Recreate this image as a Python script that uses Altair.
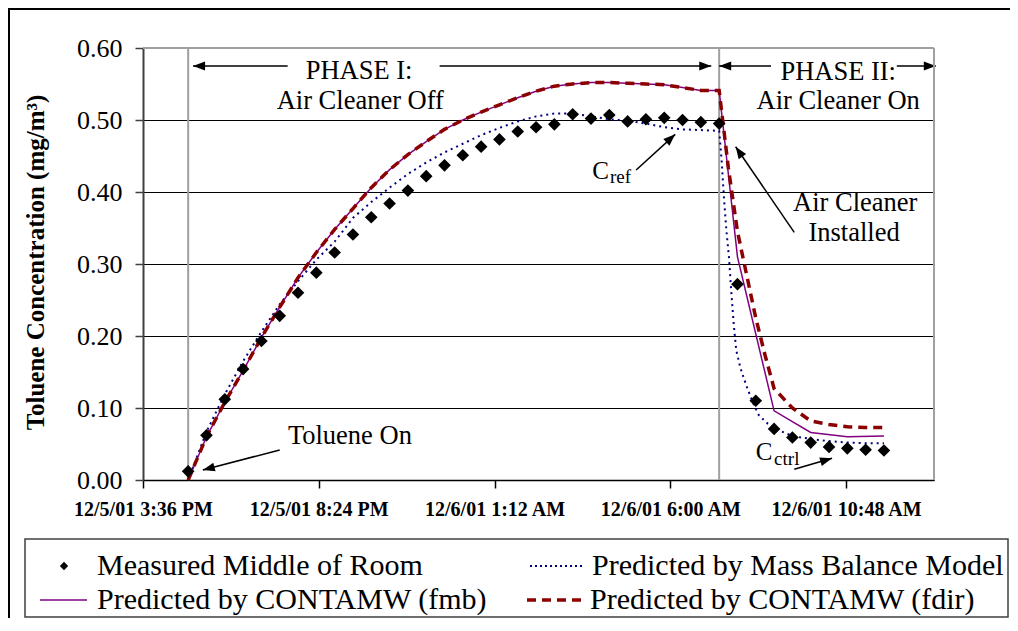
import altair as alt
import pandas as pd

FONT = "Liberation Serif"

# ---------------- data ----------------
phase1_time = [
    "2001-12-05T16:50", "2001-12-05T17:20", "2001-12-05T17:50", "2001-12-05T18:20", "2001-12-05T18:50",
    "2001-12-05T19:20", "2001-12-05T19:50", "2001-12-05T20:20", "2001-12-05T20:50", "2001-12-05T21:20",
    "2001-12-05T21:50", "2001-12-05T22:20", "2001-12-05T22:50", "2001-12-05T23:20", "2001-12-05T23:50",
    "2001-12-06T00:20", "2001-12-06T00:50", "2001-12-06T01:20", "2001-12-06T01:50", "2001-12-06T02:20",
    "2001-12-06T02:50", "2001-12-06T03:20", "2001-12-06T03:50", "2001-12-06T04:20", "2001-12-06T04:50",
    "2001-12-06T05:20", "2001-12-06T05:50", "2001-12-06T06:20", "2001-12-06T06:50", "2001-12-06T07:20",
]

measured_phase2_time = [
    "2001-12-06T07:50", "2001-12-06T08:20", "2001-12-06T08:50", "2001-12-06T09:20", "2001-12-06T09:50",
    "2001-12-06T10:20", "2001-12-06T10:50", "2001-12-06T11:20", "2001-12-06T11:50",
]
measured_value = [
    0.012, 0.062, 0.112, 0.154, 0.193, 0.228, 0.260, 0.288, 0.316, 0.341,
    0.365, 0.384, 0.402, 0.422, 0.437, 0.451, 0.463, 0.473, 0.484, 0.490,
    0.494, 0.508, 0.502, 0.507, 0.498, 0.501, 0.503, 0.500, 0.497, 0.495,
    0.272, 0.110, 0.071, 0.059, 0.052, 0.046, 0.044, 0.042, 0.041,
]

fmb_phase1_value = [
    0.000, 0.060, 0.108, 0.152, 0.198, 0.240, 0.281, 0.316, 0.348, 0.377,
    0.406, 0.431, 0.452, 0.470, 0.487, 0.500, 0.511, 0.521, 0.531, 0.540,
    0.547, 0.550, 0.552, 0.552, 0.551, 0.550, 0.549, 0.545, 0.541, 0.541,
]
fmb_phase2_time = ["2001-12-06T07:50", "2001-12-06T08:50", "2001-12-06T09:50",
                   "2001-12-06T10:50", "2001-12-06T11:50"]
fmb_phase2_value = [0.310, 0.096, 0.066, 0.060, 0.061]

fdir_phase1_value = [
    0.000, 0.060, 0.108, 0.152, 0.198, 0.240, 0.281, 0.316, 0.348, 0.377,
    0.406, 0.431, 0.452, 0.470, 0.487, 0.500, 0.511, 0.521, 0.531, 0.540,
    0.547, 0.550, 0.552, 0.552, 0.551, 0.550, 0.549, 0.545, 0.541, 0.541,
]
fdir_phase2_time = ["2001-12-06T07:35", "2001-12-06T07:50", "2001-12-06T08:05", "2001-12-06T08:20",
                    "2001-12-06T08:35", "2001-12-06T08:50", "2001-12-06T09:20", "2001-12-06T09:50",
                    "2001-12-06T10:20", "2001-12-06T10:50", "2001-12-06T11:20", "2001-12-06T11:50"]
fdir_phase2_value = [0.434, 0.345, 0.285, 0.225, 0.174, 0.127, 0.100, 0.082, 0.077, 0.074, 0.073, 0.073]

mb_phase1_value = [
    0.000, 0.067, 0.119, 0.165, 0.206, 0.244, 0.276, 0.306, 0.331, 0.364,
    0.386, 0.406, 0.425, 0.441, 0.455, 0.467, 0.479, 0.489, 0.498, 0.505,
    0.509, 0.509, 0.505, 0.501, 0.499, 0.495, 0.490, 0.487, 0.486, 0.485,
]
mb_phase2_time = ["2001-12-06T07:24", "2001-12-06T07:28", "2001-12-06T07:32", "2001-12-06T07:36",
                  "2001-12-06T07:40", "2001-12-06T07:44", "2001-12-06T07:48", "2001-12-06T07:55",
                  "2001-12-06T08:05", "2001-12-06T08:15", "2001-12-06T08:25", "2001-12-06T08:40",
                  "2001-12-06T08:55", "2001-12-06T09:20", "2001-12-06T09:50", "2001-12-06T10:20",
                  "2001-12-06T10:50", "2001-12-06T11:20", "2001-12-06T11:50"]
mb_phase2_value = [0.445, 0.390, 0.345, 0.310, 0.260, 0.215, 0.180, 0.155, 0.130, 0.108,
                   0.090, 0.078, 0.070, 0.061, 0.057, 0.054, 0.052, 0.051, 0.051]

phase_boundary_time = ["2001-12-05T16:50", "2001-12-06T07:20"]

x_tick_values = [
    alt.DateTime(year=2001, month=12, date=5, hours=15, minutes=36),
    alt.DateTime(year=2001, month=12, date=5, hours=20, minutes=24),
    alt.DateTime(year=2001, month=12, date=6, hours=1, minutes=12),
    alt.DateTime(year=2001, month=12, date=6, hours=6, minutes=0),
    alt.DateTime(year=2001, month=12, date=6, hours=10, minutes=48),
]
x_domain = [alt.DateTime(year=2001, month=12, date=5, hours=15, minutes=36),
            alt.DateTime(year=2001, month=12, date=6, hours=13, minutes=12)]
y_tick_values = [0.0, 0.1, 0.2, 0.3, 0.4, 0.5, 0.6]

# annotation texts (data coordinates)
ann_text = ["PHASE I:", "Air Cleaner Off", "PHASE II:", "Air Cleaner On",
            "Air Cleaner", "Installed", "Toluene On"]
ann_time = ["2001-12-05T21:30", "2001-12-05T21:32", "2001-12-06T10:35", "2001-12-06T10:35",
            "2001-12-06T11:03", "2001-12-06T11:01", "2001-12-05T21:15"]
ann_value = [0.5569, 0.5153, 0.5556, 0.5153, 0.3736, 0.3324, 0.050]

sub_text = ["C", "ref", "C", "ctrl"]
sub_time = ["2001-12-06T03:52", "2001-12-06T04:21", "2001-12-06T08:20", "2001-12-06T08:50"]
sub_value = [0.418, 0.4121, 0.0278, 0.0208]
sub_size = [25, 19, 25, 19]

arrow_t0 = ["2001-12-05T19:33", "2001-12-05T23:42", "2001-12-06T08:45", "2001-12-06T12:11",
            "2001-12-06T05:04", "2001-12-06T09:23", "2001-12-05T19:20", "2001-12-06T09:23"]
arrow_v0 = [0.575, 0.575, 0.575, 0.575, 0.4306, 0.344, 0.0417, 0.0149]
arrow_t1 = ["2001-12-05T16:58", "2001-12-06T07:07", "2001-12-06T07:20", "2001-12-06T13:15",
            "2001-12-06T06:08", "2001-12-06T07:47", "2001-12-05T17:14", "2001-12-06T10:25"]
arrow_v1 = [0.575, 0.575, 0.575, 0.575, 0.4801, 0.4629, 0.0139, 0.0301]
arrow_angle = [180, 0, 180, 0, 317.5, 235.7, 165.5, 343.7]

legend_labels = ["Measured Middle of Room", "Predicted by Mass Balance Model",
                 "Predicted by CONTAMW (fmb)", "Predicted by CONTAMW (fdir)"]

# ---------------- tables ----------------
measured_df = pd.DataFrame({"t": phase1_time + measured_phase2_time, "v": measured_value})
fmb_df = pd.DataFrame({"t": phase1_time + fmb_phase2_time, "v": fmb_phase1_value + fmb_phase2_value})
fdir_df = pd.DataFrame({"t": phase1_time + fdir_phase2_time, "v": fdir_phase1_value + fdir_phase2_value})
mb_df = pd.DataFrame({"t": phase1_time + mb_phase2_time, "v": mb_phase1_value + mb_phase2_value})
bound_df = pd.DataFrame({"t": phase_boundary_time})
ann_df = pd.DataFrame({"t": ann_time, "v": ann_value, "label": ann_text})
sub_df = pd.DataFrame({"t": sub_time, "v": sub_value, "label": sub_text, "fs": sub_size})
arrow_df = pd.DataFrame({"t0": arrow_t0, "v0": arrow_v0, "t1": arrow_t1, "v1": arrow_v1,
                         "ang": arrow_angle})

W, H = 791, 432

xs = alt.Scale(domain=x_domain)
ys = alt.Scale(domain=[0, 0.6], nice=False, zero=False)

x_axis = alt.Axis(values=x_tick_values, format="%-m/%-d/%y %-I:%M %p", labelFont=FONT,
                  labelFontSize=20, labelFontWeight="bold", labelColor="black",
                  tickColor="black", tickSize=8, tickWidth=1.5, domainColor="black",
                  domainWidth=1.5, grid=False, labelPadding=11, labelOverlap=False,
                  labelFlush=False)
y_axis = alt.Axis(values=y_tick_values, format=".2f", labelFont=FONT, labelFontSize=26,
                  labelColor="black", tickColor="#404040", tickSize=8, tickWidth=1.5,
                  domainColor="#404040", domainWidth=2, grid=True, gridColor="black",
                  gridWidth=1, labelPadding=13,
                  title="Toluene Concentration (mg/m³)", titleFont=FONT, titleFontSize=25,
                  titleFontWeight="bold", titleColor="black", titleAngle=270,
                  titleX=-108, titleY=214, titleBaseline="middle", titleAlign="center")

X = alt.X("t:T", scale=xs, axis=x_axis, title=None)
Y = alt.Y("v:Q", scale=ys, axis=y_axis)

base_axes = alt.Chart(measured_df).mark_point(opacity=0).encode(x=X, y=Y)

bounds = alt.Chart(bound_df).mark_rule(color="#a0a0a0", strokeWidth=2).encode(
    x=alt.X("t:T", scale=xs))

mb_line = alt.Chart(mb_df).mark_line(color="#000080", strokeWidth=2, strokeDash=[2, 4]).encode(
    x=alt.X("t:T", scale=xs), y=alt.Y("v:Q", scale=ys))
fmb_line = alt.Chart(fmb_df).mark_line(color="#800080", strokeWidth=1.5).encode(
    x=alt.X("t:T", scale=xs), y=alt.Y("v:Q", scale=ys))
fdir_line = alt.Chart(fdir_df).mark_line(color="#8B0000", strokeWidth=3.5, strokeDash=[9, 6]).encode(
    x=alt.X("t:T", scale=xs), y=alt.Y("v:Q", scale=ys))
meas_pts = alt.Chart(measured_df).mark_point(shape="diamond", filled=True, color="black",
                                             size=160, opacity=1).encode(
    x=alt.X("t:T", scale=xs), y=alt.Y("v:Q", scale=ys))

# annotations
arrow_lines = alt.Chart(arrow_df).mark_rule(color="black", strokeWidth=1.5).encode(
    x=alt.X("t0:T", scale=xs), y=alt.Y("v0:Q", scale=ys), x2="t1:T", y2="v1:Q")
arrow_heads = alt.Chart(arrow_df).mark_point(shape="M0,0L-2.4,-0.9L-2.4,0.9Z", filled=True,
                                             color="black", size=100, opacity=1).encode(
    x=alt.X("t1:T", scale=xs), y=alt.Y("v1:Q", scale=ys),
    angle=alt.Angle("ang:Q", scale=None))
ann = alt.Chart(ann_df).mark_text(font=FONT, fontSize=26.5, align="center",
                                  baseline="alphabetic", color="black").encode(
    x=alt.X("t:T", scale=xs), y=alt.Y("v:Q", scale=ys), text="label:N")
subs = alt.Chart(sub_df).mark_text(font=FONT, align="left", baseline="alphabetic",
                                   color="black").encode(
    x=alt.X("t:T", scale=xs), y=alt.Y("v:Q", scale=ys), text="label:N",
    size=alt.Size("fs:Q", scale=None))

# plot frame (gray top / right)
one = pd.DataFrame({"k": [0]})
frame_top = alt.Chart(one).mark_rule(color="#a0a0a0", strokeWidth=2).encode(
    x=alt.value(0), x2=alt.value(W), y=alt.value(0))
frame_right = alt.Chart(one).mark_rule(color="#a0a0a0", strokeWidth=2).encode(
    x=alt.value(W), y=alt.value(0), y2=alt.value(H))

# outer picture border
outer_top = alt.Chart(one).mark_rule(color="black", strokeWidth=2).encode(
    x=alt.value(-135), x2=alt.value(870), y=alt.value(-39))
outer_left = alt.Chart(one).mark_rule(color="black", strokeWidth=2).encode(
    x=alt.value(-134), y=alt.value(-40), y2=alt.value(575))

# legend box and entries
LX0, LX1, LY0, LY1 = -118, 865, 491, 569
R1, R2 = 518, 552
legend_box = alt.Chart(one).mark_rect(filled=False, stroke="#404040", strokeWidth=1.5).encode(
    x=alt.value(LX0), x2=alt.value(LX1), y=alt.value(LY0), y2=alt.value(LY1))
leg_diamond = alt.Chart(one).mark_point(shape="diamond", filled=True, color="black", size=70,
                                        opacity=1).encode(x=alt.value(-79), y=alt.value(R1))
leg_mb = alt.Chart(one).mark_rule(color="#000080", strokeWidth=2, strokeDash=[2, 3]).encode(
    x=alt.value(387), x2=alt.value(442), y=alt.value(R1))
leg_fmb = alt.Chart(one).mark_rule(color="#800080", strokeWidth=1.5).encode(
    x=alt.value(-103), x2=alt.value(-56), y=alt.value(R2))
leg_fdir = alt.Chart(one).mark_rule(color="#8B0000", strokeWidth=3.5, strokeDash=[9, 6]).encode(
    x=alt.value(384), x2=alt.value(442), y=alt.value(R2))

leg_pos = [(-46, R1), (449, R1), (-46, R2), (447, R2)]
leg_texts = []
for lab, (px, py) in zip(legend_labels, leg_pos):
    leg_texts.append(
        alt.Chart(pd.DataFrame({"label": [lab]})).mark_text(
            font=FONT, fontSize=30, align="left", baseline="middle", color="black").encode(
            x=alt.value(px), y=alt.value(py), text="label:N"))

chart = alt.layer(
    base_axes, bounds, mb_line, fmb_line, fdir_line, meas_pts,
    arrow_lines, arrow_heads, ann, subs, frame_top, frame_right,
    outer_top, outer_left, legend_box, leg_diamond, leg_mb, leg_fmb, leg_fdir, *leg_texts
).properties(
    width=W, height=H,
    autosize=alt.AutoSizeParams(type="none"),
    padding={"left": 135, "top": 40, "right": 76, "bottom": 138},
).configure_view(stroke=None).configure(background="white")

chart.save("out.html", embed_options={"renderer": "svg", "actions": False})
